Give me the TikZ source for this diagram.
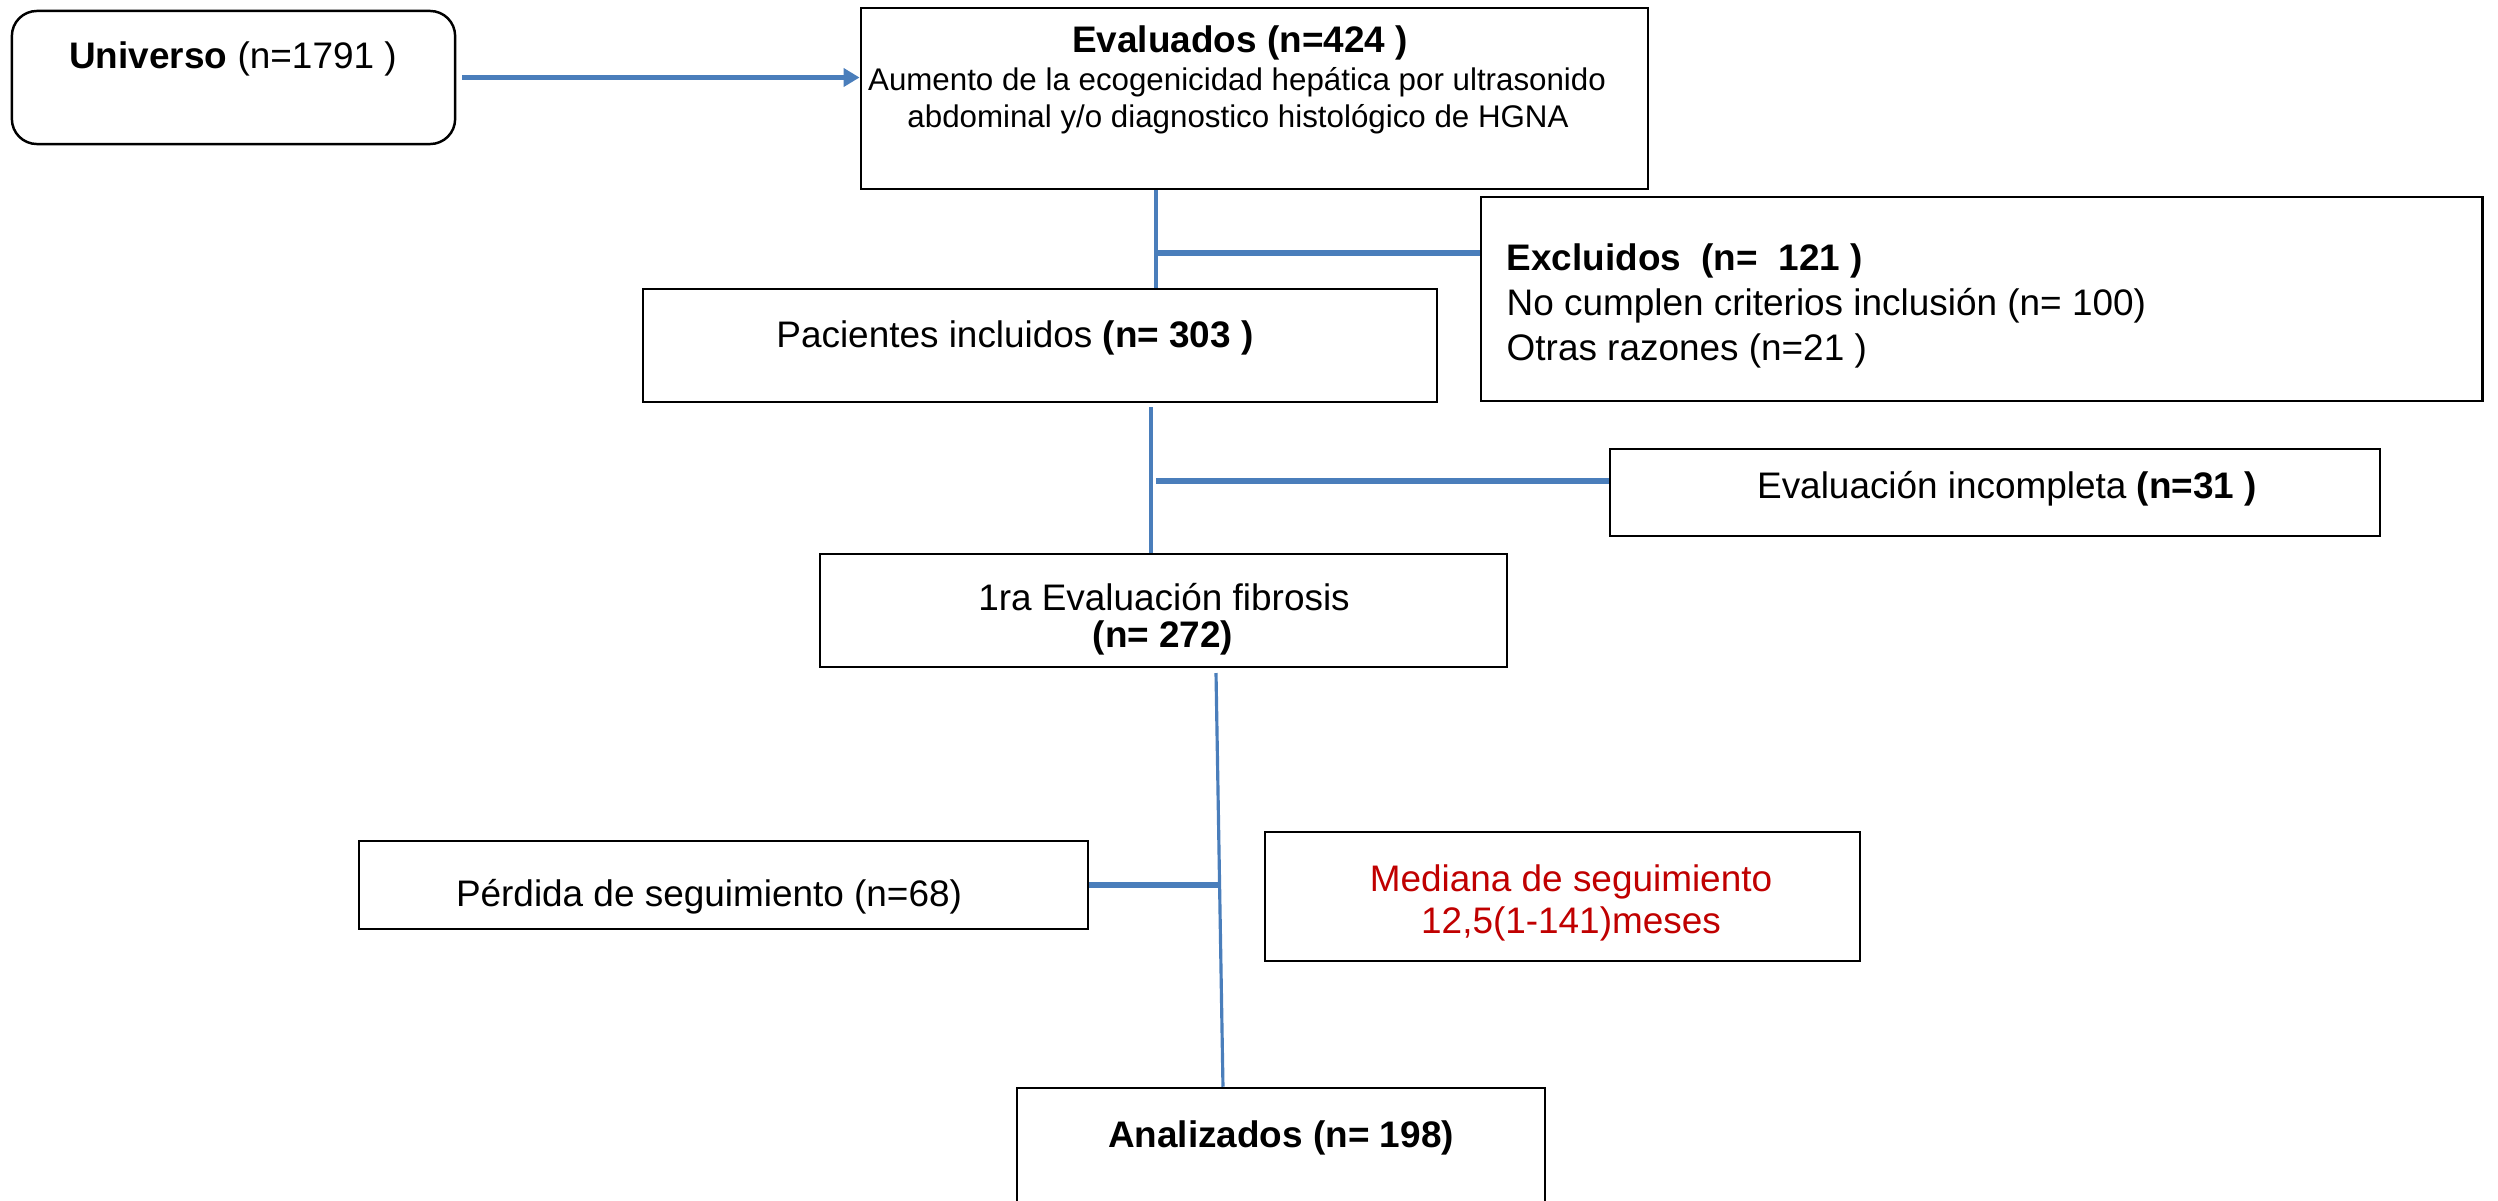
\documentclass[tikz,border=0pt]{standalone}
\usepackage{fontspec}
\setmainfont{Liberation Sans}
\usetikzlibrary{arrows.meta}
\definecolor{lnblue}{RGB}{74,126,187}
\definecolor{medred}{RGB}{192,0,0}
\begin{document}
\begin{tikzpicture}[x=0.01cm,y=-0.01cm,
  box/.style={draw=black, line width=0.7pt, inner sep=0pt, fill=white},
  txt/.style={inner sep=0pt, anchor=base, font=\fontsize{10.5}{12.6}\selectfont},
  txtl/.style={txt, anchor=base west},
  small/.style={inner sep=0pt, anchor=base, font=\fontsize{8.9}{10.7}\selectfont},
  thinline/.style={draw=lnblue, line width=0.9pt},
  thickline/.style={draw=lnblue, line width=1.7pt}]
\clip (0,0) rectangle (2498,1200);
\fill[white] (0,0) rectangle (2498,1200);
% boxes
\node[box, rounded corners=0.25cm, minimum width=4.43cm, minimum height=1.33cm] (uni) at (233.5,77.5) {};
\node[box, minimum width=7.87cm, minimum height=1.81cm] (eval) at (1254.5,98.5) {};
\node[box, minimum width=10.01cm, minimum height=2.04cm] (excl) at (1981.5,299) {};
\node[box, minimum width=7.94cm, minimum height=1.13cm] (pac) at (1040,345.5) {};
\node[box, minimum width=7.70cm, minimum height=0.87cm] (inc) at (1995,492.5) {};
\node[box, minimum width=6.87cm, minimum height=1.13cm] (fib) at (1163.5,610.5) {};
\node[box, minimum width=7.29cm, minimum height=0.88cm] (per) at (723.5,885) {};
\node[box, minimum width=5.95cm, minimum height=1.29cm] (med) at (1562.5,896.5) {};
\node[box, minimum width=5.28cm, minimum height=1.40cm] (ana) at (1281,1158) {};
% texts
\node[txt] (tuni) at (233,68) {\textbf{Universo} (n=1791 )};
\node[txt] (tev1) at (1240,52) {\textbf{Evaluados (n=424 )}};
\node[small] (tev2) at (1237,90) {Aumento de la ecogenicidad hepática por ultrasonido};
\node[small] (tev3) at (1238,127) {abdominal y/o diagnostico histológico de HGNA};
\node[txt] (tpac) at (1015,347) {Pacientes incluidos \textbf{(n= 303 )}};
\node[txtl] (tex1) at (1506,270) {\textbf{Excluidos\ \ (n=\ \ 121 )}};
\node[txtl] (tex2) at (1506,315) {No cumplen criterios inclusión (n= 100)};
\node[txtl] (tex3) at (1506,360) {Otras razones (n=21 )};
\node[txt] (tinc) at (2007,498) {Evaluación incompleta \textbf{(n=31 )}};
\node[txt] (tfib1) at (1164,610) {1ra Evaluación fibrosis};
\node[txt] (tfib2) at (1163,647) {\textbf{(n= 272)}};
\node[txt] (tper) at (709,906) {Pérdida de seguimiento (n=68)};
\node[txt, text=medred] (tmed1) at (1571,891) {Mediana de seguimiento};
\node[txt, text=medred] (tmed2) at (1571,933) {12,5(1-141)meses};
\node[txt] (tana) at (1281,1147) {\textbf{Analizados (n= 198)}};
% junction coordinates
\coordinate (j1) at (1156,253);
\coordinate (j2) at (1151,481);
\coordinate (j3) at (1220,885);
\coordinate (v3top) at (1216,673);
% connectors
\draw[thickline, -{Triangle[length=0.16cm,width=0.18cm]}, shorten <=0.06cm] (uni.east) -- (uni.east -| eval.west);
\draw[thinline] (eval.south -| j1) -- (pac.north -| j1);
\draw[thickline] (j1) -- (j1 -| excl.west);
\draw[thinline] ([yshift=-0.04cm]pac.south -| j2) -- (fib.north -| j2);
\draw[thickline] ([xshift=0.05cm]j2) -- (j2 -| inc.west);
\draw[thinline] (v3top) -- ([xshift=-0.58cm]ana.north);
\draw[thickline] (per.east) -- (j3);
\end{tikzpicture}
\end{document}
